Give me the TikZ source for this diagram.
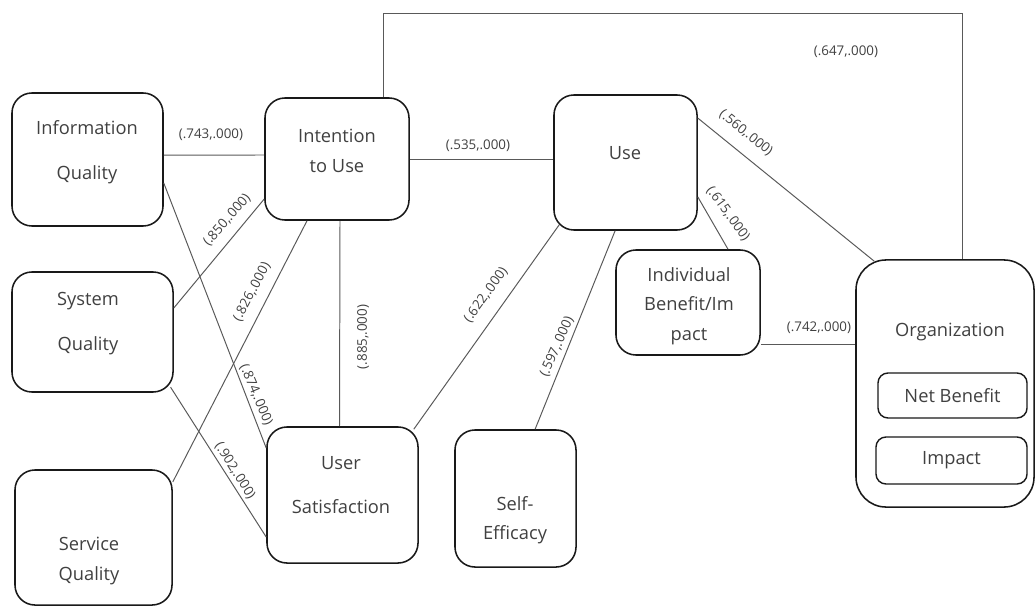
\documentclass[tikz,border=0pt]{standalone}
\usepackage{fontspec}
\setmainfont{Open Sans}
\usepackage{tikz}

\tikzset{
  box/.style={draw=black!90, line width=1.1pt, rounded corners=0.5cm, inner sep=0pt},
  subbox/.style={draw=black!90, line width=1pt, rounded corners=0.25cm, inner sep=0pt},
  txt/.style={font=\fontsize{13}{16}\selectfont, align=center, text=black!75, inner sep=0pt},
  lab/.style={font=\fontsize{9.5}{11}\selectfont, text=black!75, inner sep=1pt},
  link/.style={draw=black!65, line width=0.7pt}
}

\begin{document}
\begin{tikzpicture}[x=0.025cm, y=-0.025cm]
    \useasboundingbox (0,0) rectangle (1036,610);

    % boxes
    \node[box, minimum width=3.775cm, minimum height=3.325cm] (info) at (87.5, 159.5) {};
    \node[box, minimum width=3.6cm, minimum height=3.05cm] (intent) at (337, 159) {};
    \node[box, minimum width=3.575cm, minimum height=3.375cm] (use) at (625.5, 162.5) {};
    \node[box, minimum width=4.025cm, minimum height=3.0cm] (sys) at (92.5, 332) {};
    \node[box, minimum width=3.925cm, minimum height=3.375cm] (serv) at (93.5, 537.5) {};
    \node[box, minimum width=3.775cm, minimum height=3.4cm] (usat) at (342.5, 495) {};
    \node[box, minimum width=3.025cm, minimum height=3.425cm] (self) at (515.5, 498.5) {};
    \node[box, minimum width=3.6cm, minimum height=2.625cm] (indiv) at (688, 302.5) {};
    \node[box, rounded corners=0.75cm, minimum width=4.45cm, minimum height=6.175cm] (org) at (945, 383.5) {};
    \node[subbox, minimum width=3.725cm, minimum height=1.125cm] (netb) at (952.5, 395.5) {};
    \node[subbox, minimum width=3.775cm, minimum height=1.175cm] (imp) at (951.5, 460.5) {};

    % box texts
    \node[txt] (infoT) at (87, 152) {Information\\[16pt]Quality};
    \node[txt] (intentT) at (337, 151) {Intention\\[5pt]to Use};
    \node[txt] (useT) at (625, 153) {Use};
    \node[txt] (sysT) at (88, 324) {System\\[16pt]Quality};
    \node[txt] (servT) at (89, 561) {Service\\[5pt]Quality};
    \node[txt] (usatT) at (341, 485) {User\\[15pt]Satisfaction};
    \node[txt] (selfT) at (515, 520) {Self-\\[5pt]Efficacy};
    \node[txt] (indivT) at (689, 306) {Individual\\[5pt]Benefit/Im\\[5pt]pact};
    \node[txt] (orgT) at (950, 332) {Organization};
    \node[txt] (netbT) at (netb) {Net Benefit};
    \node[txt] (impT) at (imp) {Impact};

    % connectors
    \draw[link] ([yshift=0.11cm]info.east) -- ([yshift=0.1cm]intent.west);
    \draw[link] (intent.east) -- (intent.east -| use.west);
    \draw[link] ([yshift=0.6cm]sys.east) -- ([yshift=-1.0cm]intent.west);
    \draw[link] ([yshift=1.39cm]serv.east) -- ([xshift=-0.75cm]intent.south);
    \draw[link] ([yshift=-0.59cm]info.east) -- ([yshift=1.175cm]usat.west);
    \draw[link] ([xshift=-0.08cm, yshift=-1.38cm]sys.east) -- ([yshift=-1.05cm]usat.west);
    \draw[link] ([xshift=0.075cm]intent.south) -- ([xshift=-0.075cm]usat.north);
    \draw[link] ([xshift=0.15cm, yshift=0.15cm]use.south west) -- ([xshift=-0.125cm, yshift=-0.075cm]usat.north east);
    \draw[link] ([xshift=-0.26cm]use.south) -- ([xshift=0.49cm]self.north);
    \draw[link] ([yshift=-0.86cm]use.east) -- ([xshift=1.0cm]indiv.north);
    \draw[link] ([yshift=1.11cm]use.east) -- ([xshift=0.475cm, yshift=-0.05cm]org.north west);
    \draw[link] ([yshift=-1.04cm]indiv.east) -- ([yshift=-1.04cm]indiv.east -| org.west);
    \coordinate (loop) at (962, 13);
    \draw[link] ([xshift=1.15cm]intent.north) |- (loop) -- (loop |- org.north);

    % path labels
    \node[lab] (l743) at (211, 135) {(.743,.000)};
    \node[lab] (l535) at (478, 146) {(.535,.000)};
    \node[lab, rotate=49] (l850) at (227, 220) {(.850,.000)};
    \node[lab, rotate=62] (l826) at (252, 292) {(.826,.000)};
    \node[lab, rotate=-67] (l874) at (256, 395) {(.874,.000)};
    \node[lab, rotate=-58] (l902) at (235, 471) {(.902,.000)};
    \node[lab, rotate=90] (l885) at (363, 337) {(.885,.000)};
    \node[lab, rotate=54] (l622) at (486, 295) {(.622,.000)};
    \node[lab, rotate=66] (l597) at (557, 347) {(.597,.000)};
    \node[lab, rotate=-54] (l615) at (728, 214) {(.615,.000)};
    \node[lab, rotate=-39] (l560) at (746, 133) {(.560,.000)};
    \node[lab] (l742) at (819, 328) {(.742,.000)};
    \node[lab] (l647) at (846, 52) {(.647,.000)};
\end{tikzpicture}
\end{document}
